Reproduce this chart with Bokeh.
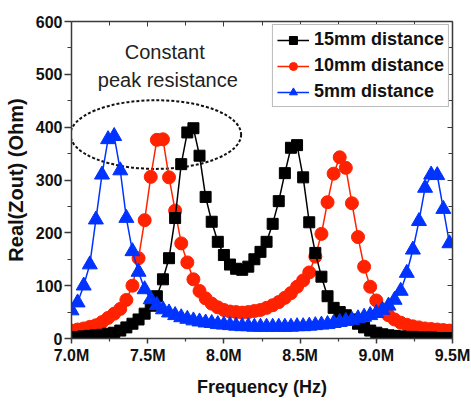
from bokeh.plotting import figure
from bokeh.models import FixedTicker, LinearAxis, Label, Range1d
from bokeh.embed import file_html
from bokeh.resources import INLINE

# ---------------- data ----------------
freq_mhz = [7.00, 7.04, 7.08, 7.12, 7.16, 7.20, 7.24, 7.28, 7.32, 7.36,
            7.40, 7.44, 7.48, 7.52, 7.56, 7.60, 7.64, 7.68, 7.72, 7.76,
            7.80, 7.84, 7.88, 7.92, 7.96, 8.00, 8.04, 8.08, 8.12, 8.16,
            8.20, 8.24, 8.28, 8.32, 8.36, 8.40, 8.44, 8.48, 8.52, 8.56,
            8.60, 8.64, 8.68, 8.72, 8.76, 8.80, 8.84, 8.88, 8.92, 8.96,
            9.00, 9.04, 9.08, 9.12, 9.16, 9.20, 9.24, 9.28, 9.32, 9.36,
            9.40, 9.44, 9.48]

r_15mm = [2, 3, 4, 5, 6, 7, 9, 11, 15, 21,
          28, 36, 47, 62, 80, 112, 152, 228, 330, 390,
          398, 346, 268, 221, 183, 158, 140, 132, 130, 136,
          150, 164, 183, 217, 260, 313, 361, 366, 305, 220,
          162, 117, 80, 58, 50, 44, 36, 28, 21, 15,
          11, 8, 6, 5, 4, 3, 3, 2, 2, 2,
          1, 1, 1]

r_10mm = [15, 17, 19, 22, 25, 31, 39, 47, 56, 73,
          100, 152, 224, 306, 376, 377, 305, 242, 180, 144,
          112, 90, 76, 66, 59, 54, 51, 50, 49, 50,
          52, 54, 58, 63, 69, 77, 86, 98, 110, 125,
          155, 198, 258, 312, 343, 323, 256, 192, 136, 98,
          72, 55, 44, 36, 30, 26, 23, 21, 19, 18,
          17, 16, 15]

r_5mm = [53, 68, 100, 140, 225, 310, 377, 383, 318, 228,
         165, 126, 93, 74, 63, 55, 49, 44, 40, 37,
         34, 32, 30, 29, 27, 26, 25, 24, 23, 23,
         22, 22, 22, 22, 22, 22, 22, 23, 23, 24,
         25, 26, 27, 29, 31, 33, 35, 38, 41, 44,
         48, 54, 62, 73, 90, 124, 168, 222, 285, 310,
         309, 245, 180]

series_labels = ["15mm distance", "10mm distance", "5mm distance"]

x_ticks = [7.0, 7.5, 8.0, 8.5, 9.0, 9.5]
x_tick_labels = ["7.0M", "7.5M", "8.0M", "8.5M", "9.0M", "9.5M"]
x_minor = [7.25, 7.75, 8.25, 8.75, 9.25]
y_ticks = [0, 100, 200, 300, 400, 500, 600]
y_minor = [50, 150, 250, 350, 450, 550]

annotation_lines = ["Constant", "peak resistance"]

# ---------------- figure ----------------
FONT = "Liberation Sans"
AXC = "#3a3a3a"

p = figure(width=471, height=404, output_backend="svg", toolbar_location=None,
           x_range=Range1d(7.0, 9.5), y_range=Range1d(0, 600),
           min_border_left=71, min_border_right=19, min_border_top=21,
           min_border_bottom=66)
p.xgrid.visible = False
p.ygrid.visible = False
p.outline_line_color = None
p.background_fill_color = "white"
p.border_fill_color = "white"

# bottom axis
xa = p.xaxis[0]
xa.ticker = FixedTicker(ticks=x_ticks, minor_ticks=x_minor)
xa.major_label_overrides = {t: l for t, l in zip(x_ticks, x_tick_labels)}
xa.axis_label = "Frequency (Hz)"
# left axis
ya = p.yaxis[0]
ya.ticker = FixedTicker(ticks=y_ticks, minor_ticks=y_minor)
ya.axis_label = "Real(Zout) (Ohm)"

for ax in (xa, ya):
    ax.axis_line_color = AXC
    ax.axis_line_width = 1.5
    ax.major_tick_line_color = AXC
    ax.minor_tick_line_color = AXC
    ax.major_tick_line_width = 1.5
    ax.minor_tick_line_width = 1.2
    ax.major_tick_in = 0
    ax.minor_tick_in = 0
    ax.major_label_text_font = FONT
    ax.major_label_text_font_style = "bold"
    ax.major_label_text_font_size = "16px"
    ax.major_label_text_color = "#111111"
    ax.axis_label_text_font = FONT
    ax.axis_label_text_font_style = "bold"
    ax.axis_label_text_color = "#111111"

xa.major_tick_out = 5
xa.minor_tick_out = 3
xa.major_label_standoff = 3
xa.axis_label_text_font_size = "18px"
xa.axis_label_standoff = 10
ya.major_tick_out = 7
ya.minor_tick_out = 4
ya.major_label_standoff = 2
ya.axis_label_text_font_size = "20px"
ya.axis_label_standoff = 6

# top and right frame axes with inward ticks
top = LinearAxis(ticker=FixedTicker(ticks=x_ticks, minor_ticks=x_minor))
right = LinearAxis(ticker=FixedTicker(ticks=y_ticks, minor_ticks=y_minor))
for ax in (top, right):
    ax.axis_line_color = AXC
    ax.axis_line_width = 1.5
    ax.major_tick_line_color = AXC
    ax.minor_tick_line_color = AXC
    ax.major_tick_out = 0
    ax.minor_tick_out = 0
    ax.major_tick_in = 5
    ax.minor_tick_in = 4
    ax.major_label_text_font_size = "0px"
    ax.major_label_text_color = None
    ax.major_label_standoff = 0
p.add_layout(top, "above")
p.add_layout(right, "right")

# dashed ellipse annotation
p.ellipse(x=[7.553], y=[386], width=1.12, height=130, fill_color=None,
          line_color="#111111", line_dash="3 2", line_width=2)

colors = ["#000000", "#ff2200", "#0033ff"]
series = [r_15mm, r_10mm, r_5mm]
markers = ["square", "circle", "triangle"]
sizes = [11, 13, 15]

draw_order = [1, 0, 2]
for i in draw_order:
    p.line(freq_mhz, series[i], line_color=colors[i], line_width=1.5,
           legend_label=series_labels[i])
    p.scatter(freq_mhz, series[i], marker=markers[i], size=sizes[i],
              fill_color=colors[i], line_color=colors[i],
              legend_label=series_labels[i])

# reorder legend items to 15, 10, 5
items = {it.label["value"]: it for it in p.legend[0].items}
p.legend[0].items = [items[s] for s in series_labels]
lg = p.legend[0]
lg.location = "top_right"
lg.margin = 3
lg.padding = 4
lg.spacing = 5
lg.glyph_width = 32
lg.glyph_height = 20
lg.label_height = 20
lg.label_standoff = 5
lg.label_text_font = FONT
lg.label_text_font_style = "bold"
lg.label_text_font_size = "18px"
lg.label_text_color = "#111111"
lg.border_line_color = "#777777"
lg.border_line_width = 1
lg.background_fill_alpha = 1.0

# text annotation
p.add_layout(Label(x=7.612, y=542, text=annotation_lines[0], text_align="center",
                   text_baseline="middle", text_font=FONT, text_font_size="20px",
                   text_color="#222222"))
p.add_layout(Label(x=7.632, y=489, text=annotation_lines[1], text_align="center",
                   text_baseline="middle", text_font=FONT, text_font_size="20px",
                   text_color="#222222"))

open("out.html", "w").write(file_html(p, INLINE))
